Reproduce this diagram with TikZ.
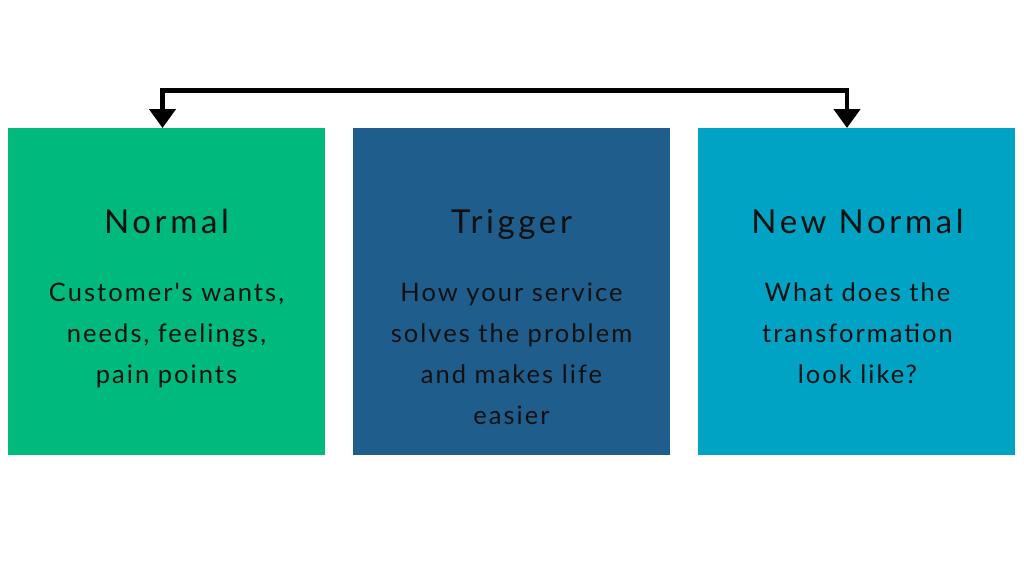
\documentclass[tikz,border=0pt]{standalone}
\usepackage{fontspec}
\setmainfont{Lato}[Ligatures=TeXOff]
\usetikzlibrary{arrows.meta}
\definecolor{cgreen}{RGB}{0,185,124}
\definecolor{cblue}{RGB}{31,94,140}
\definecolor{cteal}{RGB}{0,163,196}
\definecolor{ctext}{RGB}{17,17,17}
\tikzset{
  panel/.style={draw=none, minimum width=317pt, minimum height=327pt, inner sep=0pt, anchor=north west},
  title/.style={font=\fontsize{33}{38}\selectfont\addfontfeatures{LetterSpace=11}, text=ctext, anchor=base, inner sep=0pt},
  body/.style={font=\fontsize{25.5}{41}\selectfont\addfontfeatures{LetterSpace=8}, text=ctext, align=center, text width=310pt, anchor=north},
  link/.style={line width=4.5pt, -{Triangle[width=26pt,length=19pt]}},
}
\begin{document}
\begin{tikzpicture}[x=1pt,y=-1pt]
\useasboundingbox (0,0) rectangle (1024,576);
\fill[white] (0,0) rectangle (1024,576);
\node[panel, fill=cgreen] (p1) at (8,128) {};
\node[panel, fill=cblue] (p2) at (353,128) {};
\node[panel, fill=cteal] (p3) at (698,128) {};
\node[title] (t1) at (166.5,233.5) {Normal};
\node[title] (t2) at (511.5,233.5) {Trigger};
\node[title] (t3) at (857.5,233.5) {New Normal};
\node[body] (b1) at (166.5,279) {Customer's wants,\\ needs, feelings,\\ pain points};
\node[body] (b2) at (511.5,279) {How your service\\ solves the problem\\ and makes life\\ easier};
\node[body] (b3) at (857.5,279) {What does the\\ transformation\\ look like?};
\coordinate (c1) at (162.5,90.5);
\coordinate (c2) at (847,90.5);
\draw[link] (c1) -- (c2) -- (c2 |- p3.north);
\draw[link] (c2) -- (c1) -- (c1 |- p1.north);
\end{tikzpicture}
\end{document}
